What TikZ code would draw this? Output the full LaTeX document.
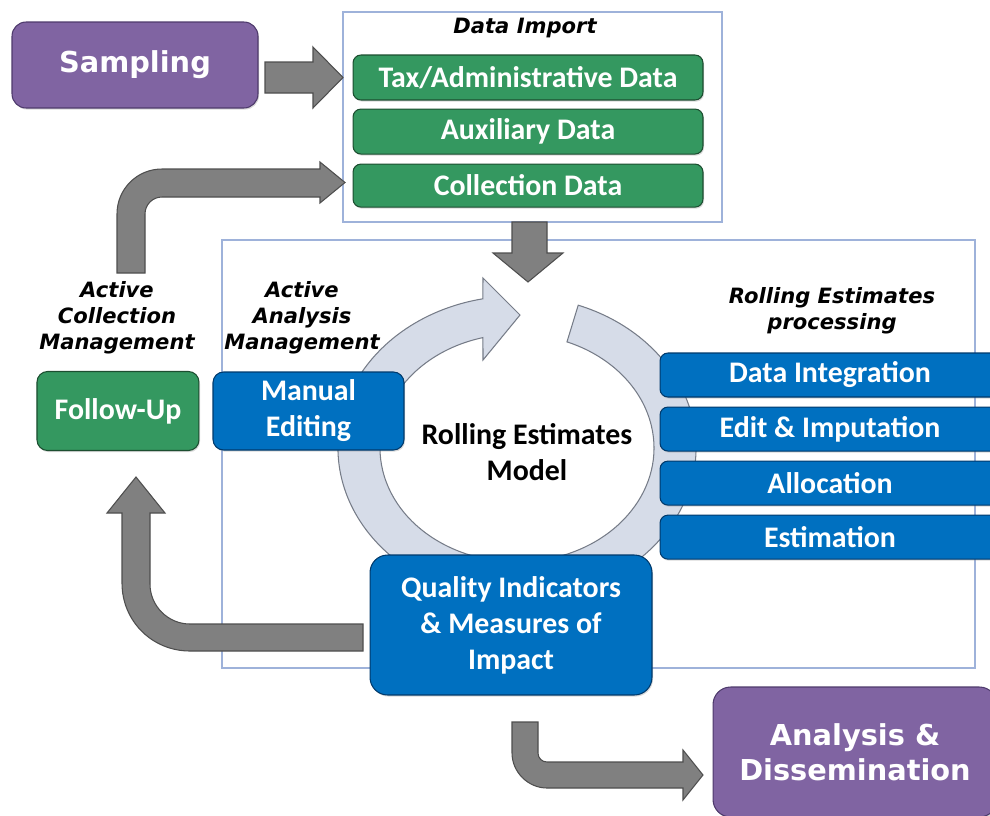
\documentclass[tikz,border=0pt]{standalone}
\usepackage{fontspec}
\setmainfont{Carlito}
\newfontfamily\dejavu{DejaVu Sans}
\usetikzlibrary{positioning, shadows}

\definecolor{purplefill}{RGB}{128,100,162}
\definecolor{purpleedge}{RGB}{78,58,108}
\definecolor{greenfill}{RGB}{52,152,96}
\definecolor{greenedge}{RGB}{28,78,48}
\definecolor{bluefill}{RGB}{0,112,192}
\definecolor{blueedge}{RGB}{0,58,108}
\definecolor{arrowfill}{RGB}{128,128,128}
\definecolor{arrowedge}{RGB}{78,78,78}
\definecolor{ringfill}{RGB}{214,220,232}
\definecolor{ringedge}{RGB}{118,124,136}
\definecolor{framecol}{RGB}{158,178,218}

\newcommand{\boxtxt}{\bfseries\fontsize{17}{20.5}\selectfont}
\newcommand{\headtxt}{\dejavu\bfseries\itshape\fontsize{12}{14.7}\selectfont}
\newcommand{\bigtxt}{\dejavu\bfseries\fontsize{16.4}{19.8}\selectfont}

\begin{document}
\begin{tikzpicture}[x=0.02cm, y=-0.02cm, node distance=0.16cm,
    box/.style={draw=#1edge, fill=#1fill, text=white, align=center, font=\boxtxt, line width=0.6pt,
        rounded corners=4.5pt, inner sep=0pt, drop shadow={shadow xshift=0.6pt, shadow yshift=-0.9pt, opacity=0.3}},
    bigbox/.style={box=purple, font=\bigtxt, rounded corners=8pt},
    heading/.style={font=\headtxt, align=center, text=black},
    frame/.style={draw=framecol, line width=0.8pt, inner sep=0pt},
    bigarrow/.style={fill=arrowfill, draw=arrowedge, line width=0.6pt},
    ring/.style={fill=ringfill, draw=ringedge, line width=0.6pt}]

    \useasboundingbox (0,0) rectangle (990,815);
    \clip (0,0) rectangle (990,815);

    % Frames
    \node[frame, minimum width=7.58cm, minimum height=4.2cm] (import) at (532.5,117) {};
    \node[frame, minimum width=15.06cm, minimum height=8.56cm] (main) at (598.5,454) {};

    % The rolling circle (drawn first, boxes sit on it)
    \begin{scope}[shift={(517,448)}, yscale=-1]
        \filldraw[ring] (70:179 and 152) arc[start angle=70, end angle=-259, x radius=179, y radius=152]
            -- (-34,170) -- (3,133) -- (-34,88) % arrow head
            -- (-255.6:137 and 114) arc[start angle=-255.6, end angle=68.6, x radius=137, y radius=114] -- cycle;
    \end{scope}

    % Define the boxes (nodes)
    \node[bigbox, minimum width=4.92cm, minimum height=1.72cm] (sampling) at (135,65) {Sampling};
    \node[heading] (importhead) at (525,28) {Data Import};
    \node[box=green, minimum width=7cm, minimum height=0.9cm] (tax) at (528,77.5) {Tax/Administrative Data};
    \node[box=green, minimum width=7cm, minimum height=0.9cm, below=of tax] (aux) {Auxiliary Data};
    \node[box=green, minimum width=7cm, minimum height=0.86cm, below=0.18cm of aux] (coll) {Collection Data};

    \node[heading] (collhead) at (117,318) {Active\\Collection\\Management};
    \node[heading] (anahead) at (302,318) {Active\\Analysis\\Management};
    \node[heading] (prochead) at (832,311) {Rolling Estimates\\processing};

    \node[box=blue, minimum width=3.82cm, minimum height=1.56cm, rounded corners=6pt] (manual) at (308.5,411) {Manual\\Editing};
    \node[box=green, minimum width=3.24cm, minimum height=1.58cm, rounded corners=6pt, left=0.26cm of manual] (followup) {Follow-Up};
    \node[font=\boxtxt, align=center] (model) at (527,452) {Rolling Estimates\\Model};

    \node[box=blue, minimum width=6.8cm, minimum height=0.88cm] (integ) at (830,375) {Data Integration};
    \node[box=blue, minimum width=6.8cm, minimum height=0.88cm, below=0.18cm of integ] (edit) {Edit \& Imputation};
    \node[box=blue, minimum width=6.8cm, minimum height=0.88cm, below=0.18cm of edit] (alloc) {Allocation};
    \node[box=blue, minimum width=6.8cm, minimum height=0.88cm, below=0.18cm of alloc] (estim) {Estimation};

    \node[box=blue, minimum width=5.64cm, minimum height=2.8cm, rounded corners=10pt] (quality) at (511,625) {Quality Indicators\\\& Measures of\\Impact};
    \node[bigbox, minimum width=5.68cm, minimum height=2.6cm, rounded corners=10pt] (analysis) at (855,752) {Analysis \&\\Dissemination};

    % Block arrows between the boxes
    \filldraw[bigarrow] (265,62) -- (313,62) -- (313,47) -- (343,77.5) -- (313,108) -- (313,93) -- (265,93) -- cycle; % sampling -> import
    \filldraw[bigarrow] (512,222) -- (547,222) -- (547,253) -- (563,253) -- (528,282) -- (493,253) -- (512,253) -- cycle; % import -> model
    \filldraw[bigarrow] (117,273) -- (117,214) .. controls (117,189) and (137,169) .. (162,169) -- (320,169)
        -- (320,162) -- (345,182.5) -- (320,203) -- (320,197) -- (162,197)
        .. controls (152.6,197) and (145,204.6) .. (145,214) -- (145,273) -- cycle; % follow-up -> collection data
    \filldraw[bigarrow] (363,624) -- (190,624) .. controls (168,624) and (150,606) .. (150,584) -- (150,513)
        -- (165,513) -- (136,477) -- (107,513) -- (122,513) -- (122,583)
        .. controls (122,621) and (152,651) .. (190,651) -- (363,651) -- cycle; % quality -> follow-up
    \filldraw[bigarrow] (512,722) -- (538,722) -- (538,753) .. controls (538,758) and (542,762) .. (547,762) -- (683,762)
        -- (683,750) -- (703,775) -- (683,800) -- (683,788) -- (547,788)
        .. controls (528,788) and (512,772) .. (512,753) -- cycle; % quality -> analysis
\end{tikzpicture}
\end{document}
